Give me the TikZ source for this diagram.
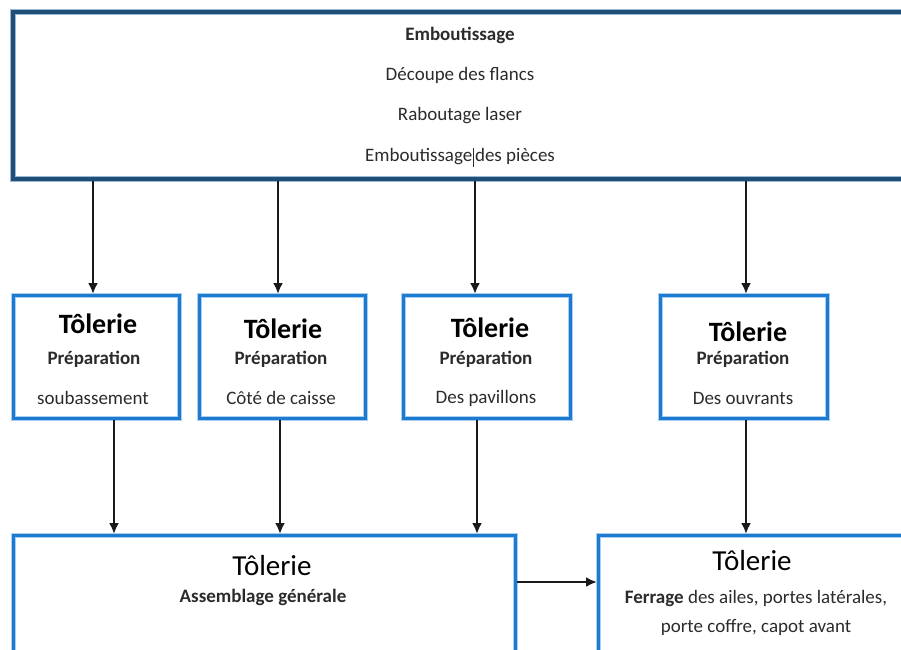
\documentclass[tikz,border=0pt]{standalone}
\usepackage{fontspec}
\setmainfont{Carlito}
\usetikzlibrary{arrows.meta}
\definecolor{navyline}{HTML}{1F4E79}
\definecolor{navyhalo}{HTML}{9DB9D6}
\definecolor{blueline}{HTML}{1C7BD0}
\definecolor{bluehalo}{HTML}{A9D0F2}
\definecolor{arrowgray}{HTML}{1A1A1A}
\definecolor{txt}{HTML}{2B2B2B}
\tikzset{
  topbox/.style={rectangle, anchor=north west, inner sep=0pt,
    preaction={draw=navyhalo, line width=6.5pt},
    draw=navyline, line width=3.6pt},
  stagebox/.style={rectangle, anchor=north west, inner sep=0pt,
    preaction={draw=bluehalo, line width=5.5pt},
    draw=blueline, line width=3.2pt},
  flow/.style={draw=arrowgray, line width=2.2pt, -{Latex[length=11pt,width=10pt]}},
  body/.style={inner sep=0pt, text=txt, font=\fontsize{19}{23}\selectfont},
  bodybold/.style={body, font=\fontsize{19}{23}\selectfont\bfseries},
  title/.style={inner sep=0pt, text=black, font=\fontsize{29}{34}\selectfont},
  titlebold/.style={inner sep=0pt, text=black, font=\fontsize{28}{34}\selectfont\bfseries},
}
\begin{document}
\begin{tikzpicture}[x=1pt, y=-1pt]
\useasboundingbox (0,0) rectangle (901,649);
\begin{scope}
\clip (0,0) rectangle (901,649);

% stamping stage (runs off the right edge of the sheet)
\node[topbox, minimum width=960pt, minimum height=167pt] (top) at (11,10) {};
\node[bodybold] (e1) at (460,35) {Emboutissage};
\node[body] (e2) at (460,75) {Découpe des flancs};
\node[body] (e3) at (460,116) {Raboutage laser};
\node[body] (e4) at (460,157) {Emboutissage\hspace{0.5pt}\rule[-5pt]{1.2pt}{19pt}\hspace{1pt}des pièces};

% preparation stages
\node[stagebox, minimum width=166pt, minimum height=123pt] (p1) at (12,294) {};
\node[stagebox, minimum width=166pt, minimum height=123pt] (p2) at (198,294) {};
\node[stagebox, minimum width=167pt, minimum height=123pt] (p3) at (402,294) {};
\node[stagebox, minimum width=167pt, minimum height=123pt] (p4) at (659,294) {};

\node[titlebold] (p1t) at (98,324) {Tôlerie};
\node[bodybold] (p1a) at (94,359) {Préparation};
\node[body] (p1b) at (93,398) {soubassement};

\node[titlebold] (p2t) at (283,329) {Tôlerie};
\node[bodybold] (p2a) at (281,359) {Préparation};
\node[body] (p2b) at (281,398) {Côté de caisse};

\node[titlebold] (p3t) at (490,328) {Tôlerie};
\node[bodybold] (p3a) at (486,359) {Préparation};
\node[body] (p3b) at (486,398) {Des pavillons};

\node[titlebold] (p4t) at (748,332) {Tôlerie};
\node[bodybold] (p4a) at (743,359) {Préparation};
\node[body] (p4b) at (743,398) {Des ouvrants};

% assembly and fitting stages (run off the bottom of the sheet)
\node[stagebox, minimum width=502pt, minimum height=140pt] (asm) at (12,534) {};
\node[stagebox, minimum width=340pt, minimum height=140pt] (fer) at (597,534) {};

\node[title] (asmt) at (272,566) {Tôlerie};
\node[bodybold] (asma) at (263,597) {Assemblage générale};

\node[title] (fert) at (752,561) {Tôlerie};
\node[body] (fera) at (756,598) {\textbf{Ferrage} des ailes, portes latérales,};
\node[body] (ferb) at (756,627) {porte coffre, capot avant};

% connectors
\draw[flow] (top.south -| 93,0) -- (p1.north -| 93,0);
\draw[flow] (top.south -| 278,0) -- (p2.north -| 278,0);
\draw[flow] (top.south -| 475,0) -- (p3.north -| 475,0);
\draw[flow] (top.south -| 746,0) -- (p4.north -| 746,0);

\draw[flow] (p1.south -| 114,0) -- (asm.north -| 114,0);
\draw[flow] (p2.south -| 280,0) -- (asm.north -| 280,0);
\draw[flow] (p3.south -| 477,0) -- (asm.north -| 477,0);
\draw[flow] (p4.south -| 746,0) -- (fer.north -| 746,0);

\draw[flow] (asm.east |- 0,582) -- (fer.west |- 0,582);
\end{scope}
\end{tikzpicture}
\end{document}
